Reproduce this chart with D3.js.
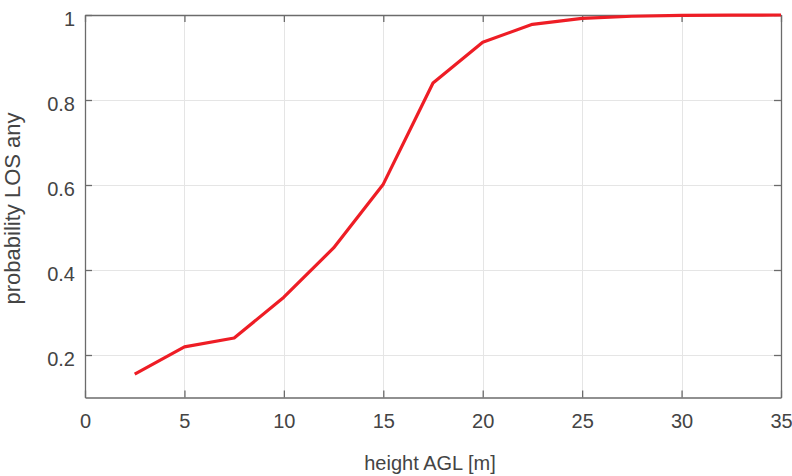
<!DOCTYPE html>
<html>
<head>
<meta charset="utf-8">
<script src="https://cdn.jsdelivr.net/npm/d3@7"></script>
<style>
  html, body { margin: 0; padding: 0; background: #fff; }
  svg { display: block; }
  text { font-family: "Liberation Sans", Arial, Helvetica, sans-serif; }
</style>
</head>
<body>
<svg id="chart" width="792" height="476"></svg>
<script>
// Line-of-sight probability versus height above ground level
const heights = [2.5, 5, 7.5, 10, 12.5, 15, 17.5, 20, 22.5, 25, 27.5, 30, 32.5, 35];
const probLOS = [0.155, 0.219, 0.240, 0.336, 0.452, 0.602, 0.840, 0.936, 0.978, 0.992, 0.997, 0.999, 0.9995, 1.0];
const xTicks = [0, 5, 10, 15, 20, 25, 30, 35];
const yTicks = [0.2, 0.4, 0.6, 0.8, 1];
const yTickLabels = ["0.2", "0.4", "0.6", "0.8", "1"];

(function () {
  const svg = d3.select("#chart");
  const margin = { left: 85, right: 11, top: 15, bottom: 78.5 };
  const W = 792, H = 476;
  const x = d3.scaleLinear().domain([0, 35]).range([margin.left, W - margin.right]);
  const y = d3.scaleLinear().domain([0.1, 1]).range([H - margin.bottom, margin.top]);

  const axisColor = "#6b6b6b";
  const textColor = "#444444";

  // grid
  const grid = svg.append("g").attr("stroke", "#e5e5e5").attr("stroke-width", 1);
  grid.selectAll("line.gx").data(xTicks).join("line")
    .attr("x1", d => Math.round(x(d)) + 0.5).attr("x2", d => Math.round(x(d)) + 0.5)
    .attr("y1", y(0.1)).attr("y2", y(1));
  grid.selectAll("line.gy").data(yTicks).join("line")
    .attr("y1", d => Math.round(y(d)) + 0.5).attr("y2", d => Math.round(y(d)) + 0.5)
    .attr("x1", x(0)).attr("x2", x(35));

  // axes box with inward ticks
  const tickLen = 7;
  const axBottom = svg.append("g").attr("transform", `translate(0,${y(0.1)})`)
    .call(d3.axisBottom(x).tickValues(xTicks).tickSizeInner(-tickLen).tickSizeOuter(0).tickPadding(16));
  const axTop = svg.append("g").attr("transform", `translate(0,${y(1)})`)
    .call(d3.axisTop(x).tickValues(xTicks).tickSizeInner(-tickLen).tickSizeOuter(0).tickFormat(""));
  const axLeft = svg.append("g").attr("transform", `translate(${x(0)},0)`)
    .call(d3.axisLeft(y).tickValues(yTicks).tickSizeInner(-tickLen).tickSizeOuter(0).tickPadding(10)
      .tickFormat((d, i) => yTickLabels[i]));
  const axRight = svg.append("g").attr("transform", `translate(${x(35)},0)`)
    .call(d3.axisRight(y).tickValues(yTicks).tickSizeInner(-tickLen).tickSizeOuter(0).tickFormat(""));

  [axBottom, axTop, axLeft, axRight].forEach(g => {
    g.select(".domain").attr("stroke", axisColor).attr("stroke-width", 1.3);
    g.selectAll(".tick line").attr("stroke", axisColor).attr("stroke-width", 1.3);
    g.selectAll(".tick text").attr("fill", textColor).style("font-size", "20px")
      .style("font-family", "'Liberation Sans', Arial, sans-serif");
  });
  axLeft.selectAll(".tick text").attr("dy", "0.5em");

  // data line
  const line = d3.line().x((d, i) => x(heights[i])).y(d => y(d));
  svg.append("path").datum(probLOS)
    .attr("d", line)
    .attr("fill", "none")
    .attr("stroke", "#ee1d25")
    .attr("stroke-width", 3.2)
    .attr("stroke-linejoin", "round");

  // axis labels
  svg.append("text")
    .attr("x", 430).attr("y", 470)
    .attr("text-anchor", "middle").attr("fill", textColor)
    .style("font-size", "20px")
    .text("height AGL [m]");
  svg.append("text")
    .attr("transform", "translate(20,208.5) rotate(-90)")
    .attr("text-anchor", "middle").attr("fill", textColor)
    .style("font-size", "22px")
    .text("probability LOS any");
})();
</script>
</body>
</html>
